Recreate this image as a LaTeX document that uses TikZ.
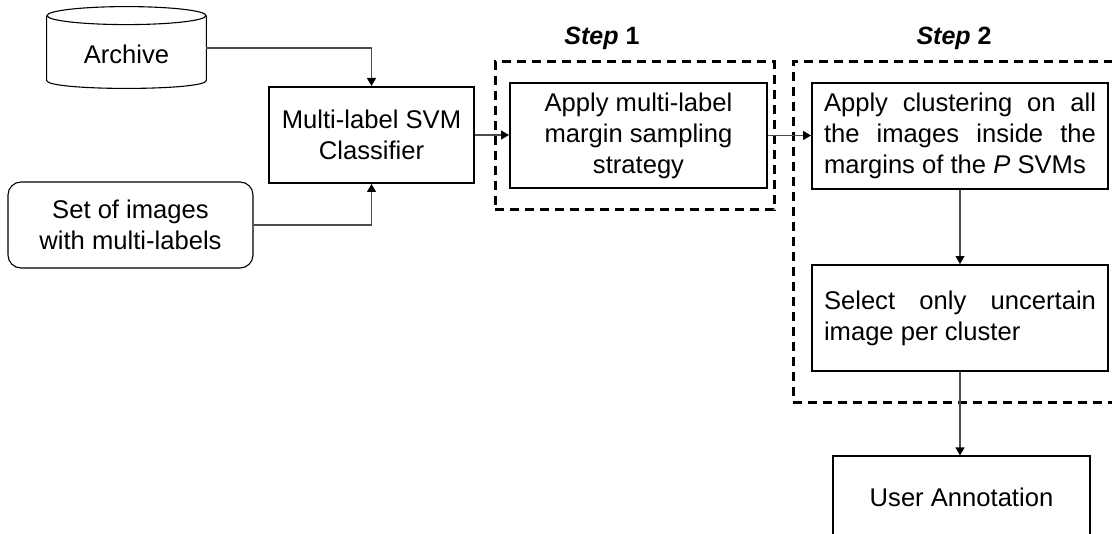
\documentclass[tikz,border=0pt]{standalone}
\usepackage{fontspec}
\setmainfont{Liberation Sans}
\usetikzlibrary{arrows.meta,calc}
\begin{document}
\begin{tikzpicture}[x=0.5pt,y=-0.5pt,
  every node/.style={font=\fontsize{12.8}{15.5}\selectfont},
  box/.style={draw, line width=1pt, inner sep=0pt, align=center},
  thinbox/.style={draw, line width=0.55pt, inner sep=0pt, align=center},
  jbox/.style={draw, line width=1pt, inner xsep=6pt, inner ysep=0pt, text width=136pt, align=justify, minimum width=148pt, minimum height=53pt},
  dashbox/.style={draw, line width=1.5pt, dash pattern=on 4.5pt off 3pt, inner sep=0pt},
  conn/.style={draw=black!70, line width=0.55pt, -{Triangle[length=4pt,width=4.5pt,fill=black,color=black]}},
  steplabel/.style={font=\fontsize{12.5}{15}\selectfont\bfseries}
]
\useasboundingbox (0,0) rectangle (1112,534);

% dashed step frames
\node[dashbox, minimum width=139.5pt, minimum height=74pt] (d1) at (634.5,136) {};
\node[dashbox, minimum width=167.5pt, minimum height=170pt] (d2) at (960.5,232) {};
\node[steplabel] (l1) at (602,38) {\textit{Step} 1};
\node[steplabel] (l2) at (954,38) {\textit{Step} 2};

% archive cylinder
\node[inner sep=0pt, minimum width=79.5pt, minimum height=32pt] (archive) at (126.5,48) {};
\draw[line width=0.55pt] (archive.north west) -- (archive.south west)
  .. controls ($(archive.south west)+(0,10.7)$) and ($(archive.south east)+(0,10.7)$) .. (archive.south east)
  -- (archive.north east);
\draw[line width=0.55pt] (archive.north) ellipse [x radius=79.5, y radius=9];
\node (archivetext) at (126.5,54) {Archive};

% boxes
\node[thinbox, rounded corners=6.5pt, minimum width=122.5pt, minimum height=43pt] (set) at (130.5,225) {Set of images\\with multi-labels};
\node[box, minimum width=102.5pt, minimum height=48pt] (svm) at (371.5,135) {Multi-label SVM\\Classifier};
\node[box, minimum width=128.5pt, minimum height=52.5pt] (s1) at (638.5,135.5) {\raisebox{-1.5pt}{\parbox{120pt}{\centering Apply multi-label\\margin sampling\\strategy}}};
\node[jbox] (s2a) at (960,136) {Apply clustering on all the images inside the margins of the \textit{P} SVMs};
\node[jbox] (s2b) at (960,318) {Select only uncertain image per cluster};
\node[thinbox, minimum width=128.5pt, minimum height=41pt] (user) at (961.5,497) {User Annotation};

% connectors
\draw[conn] (archive.east) -| (svm.north);
\draw[conn] (set.east) -| (svm.south);
\draw[conn] (svm.east) -- (svm.east -| s1.west);
\draw[conn] (s1.east) -- (s1.east -| s2a.west);
\draw[conn] (s2a.south) -- (s2b.north);
\draw[conn] (s2b.south) -- (s2b.south |- user.north);
\end{tikzpicture}
\end{document}
